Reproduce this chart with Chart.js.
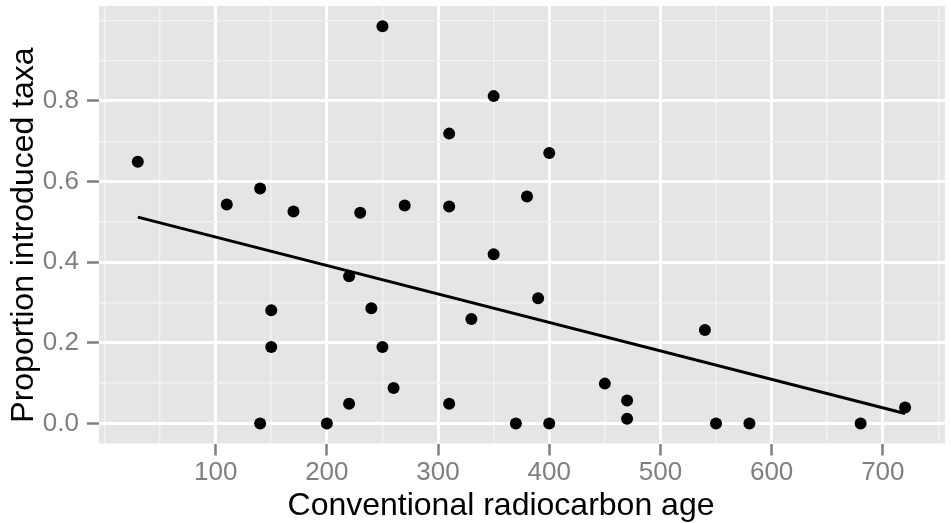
<!DOCTYPE html>
<html lang="en">
<head>
    <meta charset="UTF-8">
    <title>Proportion introduced taxa vs radiocarbon age</title>
    <script src="https://cdn.jsdelivr.net/npm/chart.js@4.4.1/dist/chart.umd.min.js"></script>
    <style>
        body {
            margin: 0;
            background: white;
        }

        .wrap {
            width: 951px;
            height: 523px;
            position: relative;
        }
    </style>
</head>
<body>
    <div class="wrap">
        <canvas id="myChart"></canvas>
    </div>

<script>
// data
const ages = [30, 110, 140, 140, 150, 150, 170, 200, 220, 220, 230, 240, 250, 250, 260, 270,
              310, 310, 310, 330, 350, 350, 370, 380, 390, 400, 400, 450, 470, 470, 540, 550,
              580, 680, 720];
const proportions = [0.649, 0.543, 0.583, 0, 0.281, 0.190, 0.526, 0, 0.049, 0.365, 0.523, 0.286,
                     0.985, 0.190, 0.088, 0.541, 0.719, 0.538, 0.049, 0.259, 0.812, 0.420, 0,
                     0.563, 0.311, 0.671, 0, 0.099, 0.057, 0.012, 0.232, 0, 0, 0, 0.040];

// linear fit line (end points)
const fitAges = [30, 720];
const fitValues = [0.512, 0.025];

// axis breaks
const xMajor = [100, 200, 300, 400, 500, 600, 700];
const xMinor = [0, 50, 150, 250, 350, 450, 550, 650, 750];
const yMajor = [0, 0.2, 0.4, 0.6, 0.8];
const yMinor = [0.1, 0.3, 0.5, 0.7, 0.9, 1.0];

const xTitle = "Conventional radiocarbon age";
const yTitle = "Proportion introduced taxa";

const FONT = "'Liberation Sans', Arial, sans-serif";
const GREY = "#7f7f7f";

function isIn(list, v) {
  return list.some(m => Math.abs(m - v) < 1e-6);
}

// grey panel + axis titles
const ggPanel = {
  id: "ggPanel",
  beforeDraw(chart) {
    const { ctx, chartArea: a } = chart;
    ctx.save();
    ctx.fillStyle = "white";
    ctx.fillRect(0, 0, chart.width, chart.height);
    ctx.fillStyle = "#e5e5e5";
    ctx.fillRect(a.left, a.top, a.right - a.left, a.bottom - a.top);
    ctx.restore();
  },
  afterDraw(chart) {
    const { ctx } = chart;
    ctx.save();
    ctx.fillStyle = "black";
    ctx.font = "32px " + FONT;
    ctx.textAlign = "center";
    ctx.textBaseline = "alphabetic";
    ctx.fillText(xTitle, 501, 515);
    ctx.translate(33, 235);
    ctx.rotate(-Math.PI / 2);
    ctx.fillText(yTitle, 0, 0);
    ctx.restore();
  }
};

const points = ages.map((a, i) => ({ x: a, y: proportions[i] }));
const fit = fitAges.map((a, i) => ({ x: a, y: fitValues[i] }));

new Chart("myChart", {
  type: "scatter",
  data: {
    datasets: [{
      data: points,
      backgroundColor: "black",
      borderWidth: 0,
      pointRadius: 6,
      order: 2
    }, {
      type: "line",
      data: fit,
      borderColor: "black",
      borderWidth: 3,
      pointRadius: 0,
      fill: false,
      order: 1
    }]
  },
  options: {
    responsive: true,
    maintainAspectRatio: false,
    animation: false,
    layout: { padding: { top: 4, right: 0, left: 0, bottom: 0 } },
    plugins: {
      legend: { display: false },
      tooltip: { enabled: false }
    },
    scales: {
      x: {
        type: "linear",
        min: -4.9,
        max: 755.9,
        afterBuildTicks: s => { s.ticks = xMinor.concat(xMajor).sort((a, b) => a - b).map(v => ({ value: v })); },
        afterFit: s => {
          s.height = 79.5;
          s.paddingLeft = 0;
          s.paddingRight = 0;
        },
        border: { display: false },
        grid: {
          color: c => isIn(xMajor, c.tick.value) ? "white" : "#f2f2f2",
          lineWidth: c => isIn(xMajor, c.tick.value) ? 3 : 1.5,
          tickColor: c => isIn(xMajor, c.tick.value) ? GREY : "rgba(0,0,0,0)",
          tickWidth: 2.5,
          tickLength: 12
        },
        ticks: {
          autoSkip: false,
          maxRotation: 0,
          padding: 2,
          color: GREY,
          font: { family: FONT, size: 26 },
          callback: v => isIn(xMajor, v) ? String(v) : ""
        }
      },
      y: {
        type: "linear",
        min: -0.0495,
        max: 1.0355,
        afterBuildTicks: s => { s.ticks = yMinor.concat(yMajor).sort((a, b) => a - b).map(v => ({ value: v })); },
        afterFit: s => {
          s.width = 99;
          s.paddingTop = 0;
          s.paddingBottom = 0;
        },
        border: { display: false },
        grid: {
          color: c => isIn(yMajor, c.tick.value) ? "white" : "#f2f2f2",
          lineWidth: c => isIn(yMajor, c.tick.value) ? 3 : 1.5,
          tickColor: c => isIn(yMajor, c.tick.value) ? GREY : "rgba(0,0,0,0)",
          tickWidth: 2.5,
          tickLength: 12
        },
        ticks: {
          autoSkip: false,
          padding: 8,
          color: GREY,
          font: { family: FONT, size: 26 },
          callback: v => isIn(yMajor, v) ? v.toFixed(1) : ""
        }
      }
    }
  },
  plugins: [ggPanel]
});
</script>
</body>
</html>
